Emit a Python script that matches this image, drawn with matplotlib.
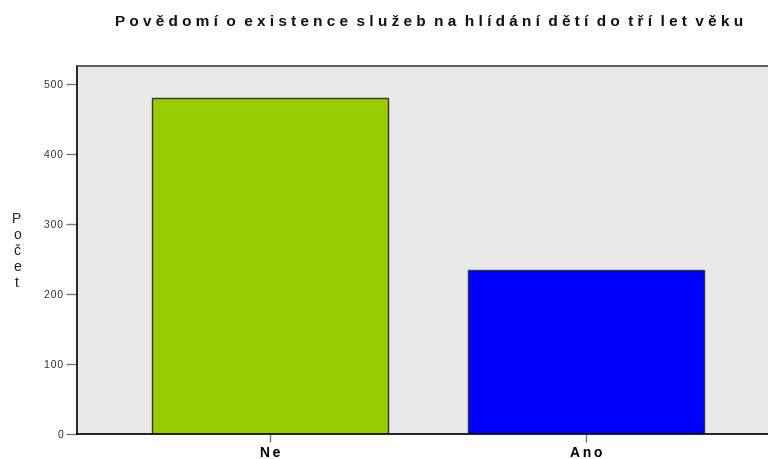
import matplotlib

matplotlib.use("Agg")
import matplotlib.pyplot as plt

# ── Data ──
categories = ["Ne", "Ano"]
counts = [480, 234]
bar_colors = ["#99cc00", "#0000ff"]
y_ticks = [0, 100, 200, 300, 400, 500]

TITLE = "Povědomí o existence služeb na hlídání dětí do tří let věku"


def spaced(s, gap="\u2009\u200a", word_gap=" "):
    # fake letter spacing with thin/hair spaces
    return word_gap.join(gap.join(w) for w in s.split(" "))


plt.rcParams["font.family"] = ["Liberation Sans", "DejaVu Sans"]

fig = plt.figure(figsize=(7.68, 4.59), dpi=100)
ax = fig.add_axes([0.1003, 0.0545, 0.8997, 0.8017])
ax.set_facecolor("#e8e8e8")

x = list(range(len(categories)))
ax.bar(x, counts, width=0.747, color=bar_colors, edgecolor="#333333", linewidth=1.0, zorder=2)

ax.set_xlim(-0.611, 1.576)
ax.set_ylim(0, 526)

ax.set_yticks(y_ticks)
ax.set_yticklabels([spaced(str(t), "\u200a") for t in y_ticks], fontsize=7.5, color="#333333")
ax.tick_params(axis="y", length=8, width=1, color="#777777", pad=2)

ax.set_xticks(x)
ax.set_xticklabels([spaced(c, "\u2009") for c in categories], fontsize=10, fontweight="bold")
ax.tick_params(axis="x", length=6, width=1, color="#777777", pad=3)

for side in ["left", "bottom"]:
    ax.spines[side].set_color("black")
    ax.spines[side].set_linewidth(1.2)
ax.spines["top"].set_color("#444444")
ax.spines["top"].set_linewidth(1.2)
ax.spines["right"].set_visible(False)

# stacked vertical y-label
fig.text(0.022, 0.453, "P\no\nč\ne\nt", fontsize=10, ha="center", va="center",
         linespacing=1.2, color="#222222")

fig.text(0.559, 0.952, spaced(TITLE, word_gap=" \u2009\u200a"), fontsize=11,
         fontweight="bold", ha="center", va="center", color="#111111")

fig.savefig("out.png", dpi=100)
